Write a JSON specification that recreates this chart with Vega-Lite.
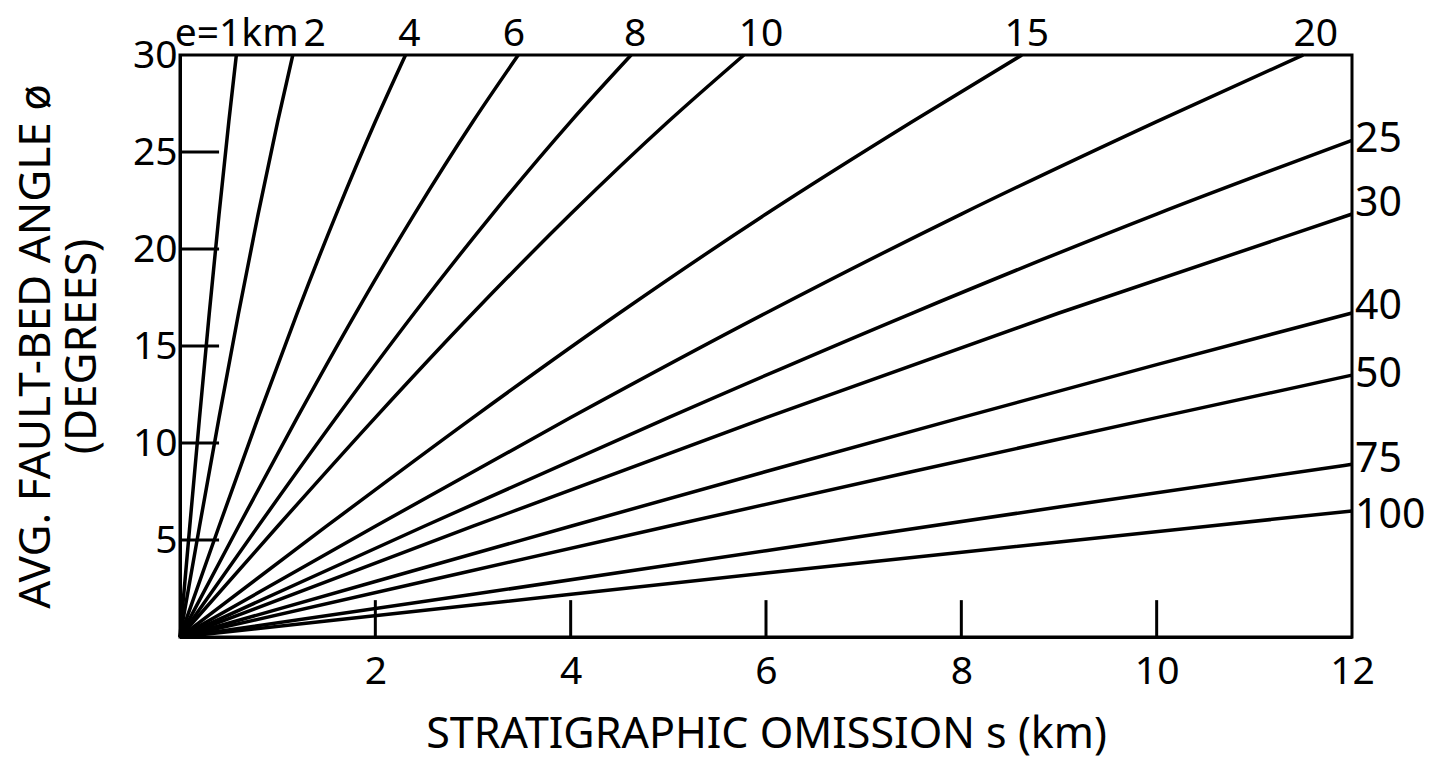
{
  "$schema": "https://vega.github.io/schema/vega-lite/v6.json",
  "width": 1172,
  "height": 582,
  "autosize": {"type": "none"},
  "padding": {"left": 180, "top": 55, "right": 85, "bottom": 137},
  "background": "white",
  "config": {
    "font": "Noto Sans",
    "view": {"stroke": "black", "strokeWidth": 3},
    "axis": {
      "grid": false,
      "ticks": false,
      "domainColor": "black",
      "domainWidth": 3,
      "labelColor": "black",
      "labelFontSize": 39,
      "labelFlush": false,
      "labelOverlap": false,
      "format": "d",
      "titleColor": "black",
      "titleFontWeight": "normal"
    },
    "axisX": {"labelPadding": 15, "titleFontSize": 43, "titlePadding": 22},
    "axisY": {"labelPadding": 3, "titleFontSize": 44, "titleLineHeight": 46, "titlePadding": 28}
  },
  "datasets": {
    "curves": [
      {"e": 1, "s": 0, "phi": 0}, {"e": 1, "s": 0.1, "phi": 5.71}, {"e": 1, "s": 0.2, "phi": 11.31}, {"e": 1, "s": 0.3, "phi": 16.7}, {"e": 1, "s": 0.4, "phi": 21.8}, {"e": 1, "s": 0.5, "phi": 26.57}, {"e": 1, "s": 0.577, "phi": 30},
      {"e": 2, "s": 0, "phi": 0}, {"e": 2, "s": 0.2, "phi": 5.71}, {"e": 2, "s": 0.4, "phi": 11.31}, {"e": 2, "s": 0.6, "phi": 16.7}, {"e": 2, "s": 0.8, "phi": 21.8}, {"e": 2, "s": 1.0, "phi": 26.57}, {"e": 2, "s": 1.155, "phi": 30},
      {"e": 4, "s": 0, "phi": 0}, {"e": 4, "s": 0.4, "phi": 5.71}, {"e": 4, "s": 0.8, "phi": 11.31}, {"e": 4, "s": 1.2, "phi": 16.7}, {"e": 4, "s": 1.6, "phi": 21.8}, {"e": 4, "s": 2.0, "phi": 26.57}, {"e": 4, "s": 2.309, "phi": 30},
      {"e": 6, "s": 0, "phi": 0}, {"e": 6, "s": 0.6, "phi": 5.71}, {"e": 6, "s": 1.2, "phi": 11.31}, {"e": 6, "s": 1.8, "phi": 16.7}, {"e": 6, "s": 2.4, "phi": 21.8}, {"e": 6, "s": 3.0, "phi": 26.57}, {"e": 6, "s": 3.464, "phi": 30},
      {"e": 8, "s": 0, "phi": 0}, {"e": 8, "s": 0.8, "phi": 5.71}, {"e": 8, "s": 1.6, "phi": 11.31}, {"e": 8, "s": 2.4, "phi": 16.7}, {"e": 8, "s": 3.2, "phi": 21.8}, {"e": 8, "s": 4.0, "phi": 26.57}, {"e": 8, "s": 4.619, "phi": 30},
      {"e": 10, "s": 0, "phi": 0}, {"e": 10, "s": 1, "phi": 5.71}, {"e": 10, "s": 2, "phi": 11.31}, {"e": 10, "s": 3, "phi": 16.7}, {"e": 10, "s": 4, "phi": 21.8}, {"e": 10, "s": 5, "phi": 26.57}, {"e": 10, "s": 5.774, "phi": 30},
      {"e": 15, "s": 0, "phi": 0}, {"e": 15, "s": 1.5, "phi": 5.71}, {"e": 15, "s": 3, "phi": 11.31}, {"e": 15, "s": 4.5, "phi": 16.7}, {"e": 15, "s": 6, "phi": 21.8}, {"e": 15, "s": 7.5, "phi": 26.57}, {"e": 15, "s": 8.62, "phi": 30},
      {"e": 20, "s": 0, "phi": 0}, {"e": 20, "s": 2, "phi": 5.71}, {"e": 20, "s": 4, "phi": 11.31}, {"e": 20, "s": 6, "phi": 16.7}, {"e": 20, "s": 8, "phi": 21.8}, {"e": 20, "s": 10, "phi": 26.57}, {"e": 20, "s": 11.5, "phi": 30},
      {"e": 25, "s": 0, "phi": 0}, {"e": 25, "s": 2.5, "phi": 5.71}, {"e": 25, "s": 5, "phi": 11.31}, {"e": 25, "s": 7.5, "phi": 16.7}, {"e": 25, "s": 10, "phi": 21.8}, {"e": 25, "s": 12, "phi": 25.6},
      {"e": 30, "s": 0, "phi": 0}, {"e": 30, "s": 3, "phi": 5.71}, {"e": 30, "s": 6, "phi": 11.31}, {"e": 30, "s": 9, "phi": 16.7}, {"e": 30, "s": 12, "phi": 21.8},
      {"e": 40, "s": 0, "phi": 0}, {"e": 40, "s": 2, "phi": 2.86}, {"e": 40, "s": 4, "phi": 5.71}, {"e": 40, "s": 6, "phi": 8.53}, {"e": 40, "s": 8, "phi": 11.31}, {"e": 40, "s": 10, "phi": 14.04}, {"e": 40, "s": 12, "phi": 16.7},
      {"e": 50, "s": 0, "phi": 0}, {"e": 50, "s": 2.5, "phi": 2.86}, {"e": 50, "s": 5, "phi": 5.71}, {"e": 50, "s": 7.5, "phi": 8.53}, {"e": 50, "s": 10, "phi": 11.31}, {"e": 50, "s": 12, "phi": 13.5},
      {"e": 75, "s": 0, "phi": 0}, {"e": 75, "s": 3, "phi": 2.2}, {"e": 75, "s": 6, "phi": 4.45}, {"e": 75, "s": 9, "phi": 6.7}, {"e": 75, "s": 12, "phi": 8.9},
      {"e": 100, "s": 0, "phi": 0}, {"e": 100, "s": 3, "phi": 1.65}, {"e": 100, "s": 6, "phi": 3.3}, {"e": 100, "s": 9, "phi": 4.9}, {"e": 100, "s": 12, "phi": 6.5}
    ],
    "xticks": [
      {"s": 2, "phi": 0, "phi2": 1.9}, {"s": 4, "phi": 0, "phi2": 1.9}, {"s": 6, "phi": 0, "phi2": 1.9}, {"s": 8, "phi": 0, "phi2": 1.9}, {"s": 10, "phi": 0, "phi2": 1.9}
    ],
    "yticks": [
      {"s": 0, "s2": 0.4, "phi": 5}, {"s": 0, "s2": 0.4, "phi": 10}, {"s": 0, "s2": 0.4, "phi": 15}, {"s": 0, "s2": 0.4, "phi": 20}, {"s": 0, "s2": 0.4, "phi": 25}
    ],
    "toplabels": [
      {"label": "e=1km", "s": 0.58, "phi": 30}, {"label": "2", "s": 1.38, "phi": 30}, {"label": "4", "s": 2.35, "phi": 30}, {"label": "6", "s": 3.42, "phi": 30},
      {"label": "8", "s": 4.66, "phi": 30}, {"label": "10", "s": 5.95, "phi": 30}, {"label": "15", "s": 8.67, "phi": 30}, {"label": "20", "s": 11.63, "phi": 30}
    ],
    "rightlabels": [
      {"label": "25", "s": 12, "phi": 25.64}, {"label": "30", "s": 12, "phi": 22.3}, {"label": "40", "s": 12, "phi": 17.0},
      {"label": "50", "s": 12, "phi": 13.5}, {"label": "75", "s": 12, "phi": 9.1}, {"label": "100", "s": 12, "phi": 6.25}
    ]
  },
  "layer": [
    {
      "data": {"name": "curves"},
      "mark": {"type": "line", "color": "black", "strokeWidth": 3.5, "interpolate": "monotone"},
      "encoding": {
        "x": {"field": "s", "type": "quantitative", "title": "STRATIGRAPHIC OMISSION s (km)",
              "scale": {"domain": [0, 12], "nice": false, "zero": true},
              "axis": {"values": [2, 4, 6, 8, 10, 12]}},
        "y": {"field": "phi", "type": "quantitative", "title": ["AVG. FAULT-BED ANGLE ø", "(DEGREES)"],
              "scale": {"domain": [0, 30], "nice": false, "zero": true},
              "axis": {"values": [5, 10, 15, 20, 25, 30]}},
        "detail": {"field": "e", "type": "nominal"},
        "order": {"field": "s", "type": "quantitative"}
      }
    },
    {
      "data": {"name": "xticks"},
      "mark": {"type": "rule", "color": "black", "strokeWidth": 3},
      "encoding": {
        "x": {"field": "s", "type": "quantitative", "title": "STRATIGRAPHIC OMISSION s (km)"},
        "y": {"field": "phi", "type": "quantitative", "title": ["AVG. FAULT-BED ANGLE ø", "(DEGREES)"]},
        "y2": {"field": "phi2"}
      }
    },
    {
      "data": {"name": "yticks"},
      "mark": {"type": "rule", "color": "black", "strokeWidth": 3},
      "encoding": {
        "x": {"field": "s", "type": "quantitative", "title": "STRATIGRAPHIC OMISSION s (km)"},
        "x2": {"field": "s2"},
        "y": {"field": "phi", "type": "quantitative", "title": ["AVG. FAULT-BED ANGLE ø", "(DEGREES)"]}
      }
    },
    {
      "data": {"name": "toplabels"},
      "mark": {"type": "text", "color": "black", "fontSize": 39, "align": "center", "baseline": "alphabetic", "dy": -9},
      "encoding": {
        "x": {"field": "s", "type": "quantitative", "title": "STRATIGRAPHIC OMISSION s (km)"},
        "y": {"field": "phi", "type": "quantitative", "title": ["AVG. FAULT-BED ANGLE ø", "(DEGREES)"]},
        "text": {"field": "label"}
      }
    },
    {
      "data": {"name": "rightlabels"},
      "mark": {"type": "text", "color": "black", "fontSize": 41, "align": "left", "baseline": "middle", "dx": 3},
      "encoding": {
        "x": {"field": "s", "type": "quantitative", "title": "STRATIGRAPHIC OMISSION s (km)"},
        "y": {"field": "phi", "type": "quantitative", "title": ["AVG. FAULT-BED ANGLE ø", "(DEGREES)"]},
        "text": {"field": "label"}
      }
    }
  ]
}
